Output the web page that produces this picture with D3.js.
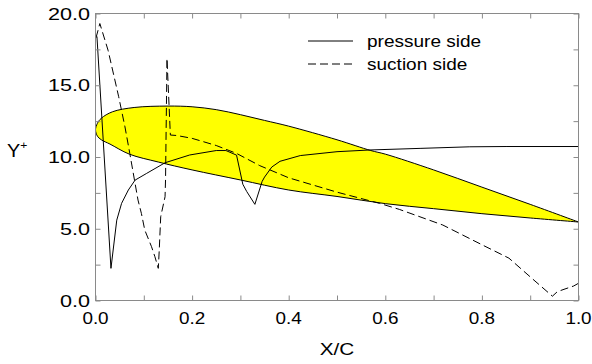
<!DOCTYPE html>
<html>
<head>
<meta charset="utf-8">
<script src="https://cdn.jsdelivr.net/npm/d3@7"></script>
<style>
  body { margin: 0; background: #fff; }
  svg text { font-family: "Liberation Sans", Arial, sans-serif; fill: #000; }
</style>
</head>
<body>
<div id="chart"></div>
<script>
// airfoil outline, upper and lower surface
var upperX = [0.0, 0.004, 0.012, 0.035, 0.08, 0.15, 0.2, 0.25, 0.3, 0.35, 0.4, 0.5, 0.57, 0.6, 0.7, 0.8, 0.9, 1.0]
var upperY = [11.9, 12.35, 12.7, 13.15, 13.45, 13.55, 13.5, 13.3, 12.95, 12.55, 12.15, 11.2, 10.45, 10.2, 9.1, 7.9, 6.7, 5.47]
var lowerX = [0.0, 0.004, 0.012, 0.03, 0.07, 0.13, 0.2, 0.3, 0.4, 0.5, 0.6, 0.7, 0.8, 0.9, 1.0]
var lowerY = [11.9, 11.45, 11.2, 10.9, 10.2, 9.65, 9.1, 8.4, 7.7, 7.25, 6.75, 6.4, 6.05, 5.75, 5.47]

// Y+ along the pressure side
var pressX = [0.003, 0.032, 0.044, 0.054, 0.068, 0.082, 0.106, 0.144, 0.195, 0.25, 0.27, 0.292, 0.305, 0.313, 0.33, 0.345, 0.35, 0.365, 0.382, 0.424, 0.5, 0.568, 0.672, 0.775, 0.85, 1.0]
var pressY = [18.4, 2.24, 5.6, 6.77, 7.7, 8.39, 8.86, 9.6, 10.14, 10.45, 10.45, 10.13, 8.1, 7.6, 6.7, 8.3, 8.6, 9.3, 9.7, 10.1, 10.37, 10.49, 10.6, 10.71, 10.73, 10.73]

// Y+ along the suction side
var suctX = [0.001, 0.009, 0.026, 0.048, 0.061, 0.071, 0.088, 0.095, 0.102, 0.116, 0.123, 0.13, 0.132, 0.135, 0.144, 0.145, 0.148, 0.155, 0.168, 0.2, 0.25, 0.292, 0.34, 0.4, 0.5, 0.588, 0.629, 0.719, 0.801, 0.856, 0.905, 0.946, 0.956, 0.97, 0.99, 1.0]
var suctY = [18.3, 19.3, 17.44, 14.2, 12.1, 10.25, 7.0, 6.07, 4.91, 3.75, 3.05, 2.24, 3.52, 5.84, 7.23, 8.4, 16.87, 11.53, 11.5, 11.3, 10.8, 10.25, 9.4, 8.55, 7.55, 6.77, 6.35, 5.26, 3.87, 2.95, 1.5, 0.3, 0.61, 0.78, 1.01, 1.2]

var xTicks = [0.0, 0.2, 0.4, 0.6, 0.8, 1.0]
var yTicks = [0.0, 5.0, 10.0, 15.0, 20.0]
var legendNames = ["pressure side", "suction side"]

var width = 592, height = 364

var svg = d3.select("#chart").append("svg")
    .attr("width", width)
    .attr("height", height)

var x = d3.scaleLinear().domain([0, 1]).range([95.5, 578.5])
var y = d3.scaleLinear().domain([0, 20]).range([300.5, 13.5])

var zip = function(xs, ys){ return xs.map(function(v, i){ return [v, ys[i]] }) }

// airfoil
var foil = zip(upperX, upperY).reverse().concat(zip(lowerX, lowerY).slice(1))
svg.append("path")
    .attr("d", d3.line().x(function(d){ return x(d[0]) }).y(function(d){ return y(d[1]) })
        .curve(d3.curveCatmullRom.alpha(0.5))(foil) + "Z")
    .attr("fill", "#ffff00")
    .attr("stroke", "#000")
    .attr("stroke-width", 1)

var line = d3.line()
    .x(function(d){ return x(d[0]) })
    .y(function(d){ return y(d[1]) })

svg.append("path")
    .attr("d", line(zip(pressX, pressY)))
    .attr("fill", "none")
    .attr("stroke", "#000")
    .attr("stroke-width", 1)

svg.append("path")
    .attr("d", line(zip(suctX, suctY)))
    .attr("fill", "none")
    .attr("stroke", "#000")
    .attr("stroke-width", 1)
    .attr("stroke-dasharray", "8,4")

// frame with inward ticks on all four sides
var tickCol = "#8a8a8a"
svg.append("rect")
    .attr("x", x(0)).attr("y", y(20))
    .attr("width", x(1) - x(0)).attr("height", y(0) - y(20))
    .attr("fill", "none").attr("stroke", tickCol).attr("stroke-width", 1)

var minorX = d3.range(0, 11).map(function(i){ return i / 10 })
var minorY = d3.range(0, 9).map(function(i){ return i * 2.5 })

svg.append("g").attr("transform", "translate(0," + y(0) + ")")
    .call(d3.axisTop(x).tickValues(minorX).tickSize(5).tickFormat(""))
svg.append("g").attr("transform", "translate(0," + y(20) + ")")
    .call(d3.axisBottom(x).tickValues(minorX).tickSize(5).tickFormat(""))
svg.append("g").attr("transform", "translate(" + x(0) + ",0)")
    .call(d3.axisRight(y).tickValues(minorY).tickSize(5).tickFormat(""))
svg.append("g").attr("transform", "translate(" + x(1) + ",0)")
    .call(d3.axisLeft(y).tickValues(minorY).tickSize(5).tickFormat(""))
svg.selectAll(".domain").remove()
svg.selectAll(".tick line").attr("stroke", tickCol)

// the original lettering is drawn wide, so stretch it horizontally
svg.selectAll(".xlab").data(xTicks).enter().append("text")
    .attr("class", "xlab")
    .attr("transform", function(d){ return "translate(" + x(d) + ",324) scale(1.18,1)" })
    .attr("text-anchor", "middle")
    .style("font-size", "16px")
    .text(function(d){ return d.toFixed(1) })

svg.selectAll(".ylab").data(yTicks).enter().append("text")
    .attr("class", "ylab")
    .attr("transform", function(d){ return "translate(90," + (y(d) + 6) + ") scale(1.35,1)" })
    .attr("text-anchor", "end")
    .style("font-size", "16px")
    .text(function(d){ return d.toFixed(1) })

svg.append("text")
    .attr("transform", "translate(337,355) scale(1.3,1)")
    .attr("text-anchor", "middle")
    .style("font-size", "16px")
    .text("X/C")

var yl = svg.append("text")
    .attr("transform", "translate(7,157) scale(1.1,1)")
    .style("font-size", "18px")
    .text("Y")
yl.append("tspan")
    .attr("dy", -8)
    .style("font-size", "11px")
    .text("+")

// legend
var leg = svg.selectAll(".leg").data(legendNames).enter().append("g")
    .attr("class", "leg")
    .attr("transform", function(d, i){ return "translate(308," + (41 + i * 23) + ")" })
leg.append("line")
    .attr("x1", 0).attr("x2", 45)
    .attr("stroke", "#000").attr("stroke-width", 1)
    .attr("stroke-dasharray", function(d, i){ return i ? "8,4" : null })
leg.append("text")
    .attr("transform", "translate(59,6) scale(1.12,1)")
    .style("font-size", "17px")
    .text(function(d){ return d })
</script>
</body>
</html>
